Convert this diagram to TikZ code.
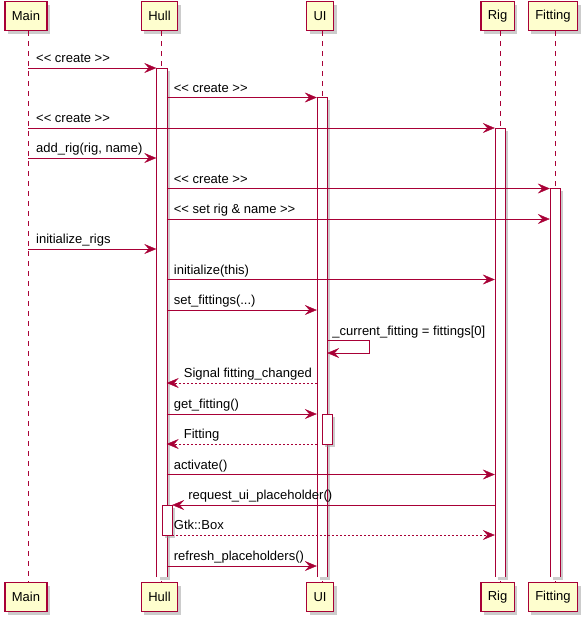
\documentclass[tikz,border=0pt]{standalone}
\usepackage{fontspec}
\setmainfont{Liberation Sans}
\usetikzlibrary{arrows.meta, shadows}

\definecolor{UmlRed}{HTML}{A80036}
\definecolor{UmlCream}{HTML}{FEFECE}

% keeps << and >> from turning into guillemets
\newcommand{\stereo}[1]{<\kern0pt< #1 >\kern0pt>}

\begin{document}
\begin{tikzpicture}[x=1pt, y=-1pt,
    every node/.style={font=\fontsize{13}{15}\selectfont},
    party/.style={draw=UmlRed, line width=1.5pt, fill=UmlCream, minimum height=29pt, inner xsep=7pt,
        drop shadow={shadow xshift=3pt, shadow yshift=-3pt, fill=black!40}},
    actbar/.style={fill=white, minimum width=10pt, inner sep=0pt,
        drop shadow={shadow xshift=3pt, shadow yshift=-3pt, fill=black!40}},
    life/.style={UmlRed, dash pattern=on 5pt off 5pt},
    msg/.style={UmlRed, -{Stealth[length=12pt, width=10pt, inset=4.5pt]}},
    reply/.style={msg, dash pattern=on 2pt off 2pt},
    lbl/.style={anchor=base west, inner sep=0pt, text=black, yshift=5.5pt}]
        \useasboundingbox (0,0) rectangle (587,619);

        % Lifeline positions
        \coordinate (main) at (28,0);
        \coordinate (hull) at (161.5,0);
        \coordinate (ui) at (322,0);
        \coordinate (rig) at (500,0);
        \coordinate (fit) at (555,0);

        % Participants, top and bottom
        \node[party] (mainT) at (26,16) {Main};
        \node[party] (hullT) at (159.5,16) {Hull};
        \node[party] (uiT) at (320,16) {UI};
        \node[party] (rigT) at (497.5,16) {Rig};
        \node[party] (fitT) at (553,16) {Fitting};
        \node[party] (mainB) at (26,597) {Main};
        \node[party] (hullB) at (159.5,597) {Hull};
        \node[party] (uiB) at (320,597) {UI};
        \node[party] (rigB) at (497.5,597) {Rig};
        \node[party] (fitB) at (553,597) {Fitting};

        % Lifelines
        \draw[life] (mainT.south -| main) -- (mainB.north -| main);
        \draw[life] (hullT.south -| hull) -- (hullB.north -| hull);
        \draw[life] (uiT.south -| ui) -- (uiB.north -| ui);
        \draw[life] (rigT.south -| rig) -- (rigB.north -| rig);
        \draw[life] (fitT.south -| fit) -- (fitB.north -| fit);

        % Activations (open at the bottom)
        \node[actbar, minimum height=509pt] (hullA) at (161.5,322.5) {};
        \draw[UmlRed] (hullA.south west) -- (hullA.north west) -- (hullA.north east) -- (hullA.south east);
        \node[actbar, minimum height=480pt] (uiA) at (322,337) {};
        \draw[UmlRed] (uiA.south west) -- (uiA.north west) -- (uiA.north east) -- (uiA.south east);
        \node[actbar, minimum height=449pt] (rigA) at (500,352.5) {};
        \draw[UmlRed] (rigA.south west) -- (rigA.north west) -- (rigA.north east) -- (rigA.south east);
        \node[actbar, minimum height=389pt] (fitA) at (555,382.5) {};
        \draw[UmlRed] (fitA.south west) -- (fitA.north west) -- (fitA.north east) -- (fitA.south east);
        \node[actbar, draw=UmlRed, minimum height=30pt] (uiC) at (327,429) {};
        \node[actbar, draw=UmlRed, minimum height=30pt] (hullC) at (167,520) {};

        % Messages
        \draw[msg] (main |- 0,68) -- (hullA.west |- 0,68) node[lbl, at start, xshift=8pt] (m1) {\stereo{create}};
        \draw[msg] (hullA.east |- 0,97.5) -- (uiA.west |- 0,97.5) node[lbl, at start, xshift=7pt] (m2) {\stereo{create}};
        \draw[msg] (main |- 0,128) -- (rigA.west |- 0,128) node[lbl, at start, xshift=8pt] (m3) {\stereo{create}};
        \draw[msg] (main |- 0,158) -- (hullA.west |- 0,158) node[lbl, at start, xshift=8pt] (m4) {add\_rig(rig, name)};
        \draw[msg] (hullA.east |- 0,188.5) -- (fitA.west |- 0,188.5) node[lbl, at start, xshift=7pt] (m5) {\stereo{create}};
        \draw[msg] (hullA.east |- 0,219) -- (fitA.west |- 0,219) node[lbl, at start, xshift=7pt] (m6) {\stereo{set rig \& name}};
        \draw[msg] (main |- 0,249) -- (hullA.west |- 0,249) node[lbl, at start, xshift=8pt] (m7) {initialize\_rigs};
        \draw[msg] (hullA.east |- 0,279.5) -- (rigA.west |- 0,279.5) node[lbl, at start, xshift=7pt] (m8) {initialize(this)};
        \draw[msg] (hullA.east |- 0,310) -- (uiA.west |- 0,310) node[lbl, at start, xshift=7pt] (m9) {set\_fittings(...)};
        \draw[msg] (uiA.east |- 0,340) -- ++(42,0) -- ++(0,13) -- (uiA.east |- 0,353);
        \node[lbl, yshift=-1pt] (m10) at (uiA.east |- 0,340) [xshift=5pt] {\_current\_fitting = fittings[0]};
        \draw[reply] (uiA.west |- 0,383) -- (hullA.east |- 0,383) node[lbl, at end, xshift=17pt] (m11) {Signal fitting\_changed};
        \draw[msg] (hullA.east |- 0,414) -- (uiA.west |- 0,414) node[lbl, at start, xshift=7pt] (m12) {get\_fitting()};
        \draw[reply] (uiA.west |- 0,444) -- (hullA.east |- 0,444) node[lbl, at end, xshift=17pt] (m13) {Fitting};
        \draw[msg] (hullA.east |- 0,474.5) -- (rigA.west |- 0,474.5) node[lbl, at start, xshift=7pt] (m14) {activate()};
        \draw[msg] (rigA.west |- 0,505) -- (hullC.east |- 0,505) node[lbl, at end, xshift=16pt] (m15) {request\_ui\_placeholder()};
        \draw[reply] (hullC.east |- 0,535) -- (rigA.west |- 0,535) node[lbl, at start, xshift=1.5pt] (m16) {Gtk::Box};
        \draw[msg] (hullA.east |- 0,566) -- (uiA.west |- 0,566) node[lbl, at start, xshift=7pt] (m17) {refresh\_placeholders()};
    \end{tikzpicture}
\end{document}
